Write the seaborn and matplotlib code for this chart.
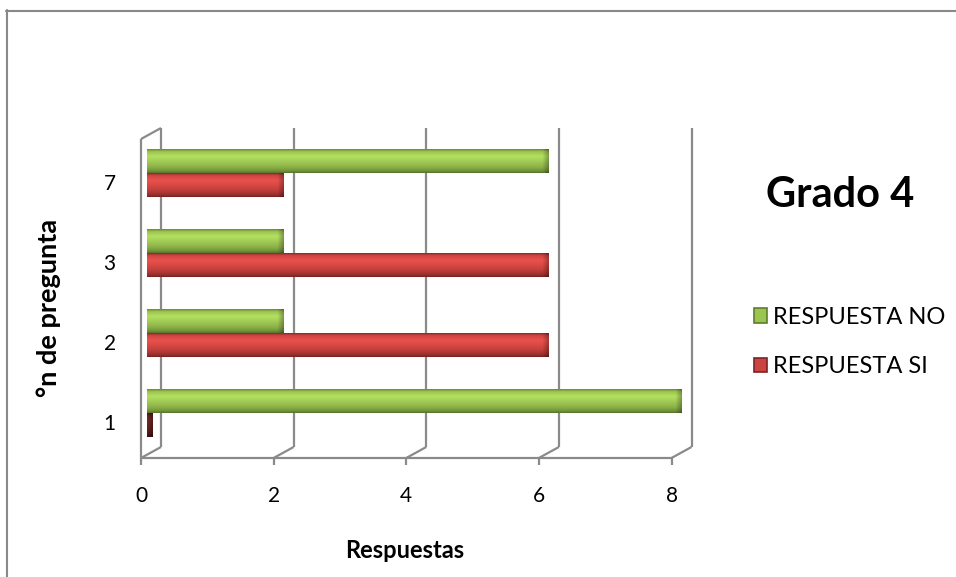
import numpy as np
import pandas as pd
import matplotlib
matplotlib.use("Agg")
import matplotlib.pyplot as plt
import seaborn as sns
from matplotlib.patches import FancyBboxPatch, Patch
from matplotlib.lines import Line2D
from matplotlib.colors import to_rgb

# Survey results per question number
preguntas = ["7", "3", "2", "1"]
respuesta_si = [2, 6, 6, 0]
respuesta_no = [6, 2, 2, 8]
series = ["RESPUESTA NO", "RESPUESTA SI"]
x_ticks = [0, 2, 4, 6, 8]

df = pd.DataFrame({
    "pregunta": preguntas * 2,
    "serie": [series[0]] * len(preguntas) + [series[1]] * len(preguntas),
    "valor": respuesta_no + respuesta_si,
})

sns.set_theme(style="white")
plt.rcParams["font.family"] = ["Lato", "DejaVu Sans"]
plt.rcParams["text.color"] = "black"

W, H = 956, 577
fig = plt.figure(figsize=(W / 100, H / 100), dpi=100)
fig.patch.set_facecolor("white")


def px_box(left, top, right, bottom):
    return [left / W, 1 - bottom / H, (right - left) / W, (bottom - top) / H]


XMAX = 8
XMIN = -0.2          # room on the left for the side wall
NCAT = len(preguntas)
zero_px, max_px = 150.5, 681.0
ppx = (max_px - zero_px) / XMAX
ax_l = zero_px + XMIN * ppx
ax_t, ax_b = 133.5, 452.5
ax = fig.add_axes(px_box(ax_l, ax_t, max_px, ax_b))
ax.set_facecolor("none")

palette = {"RESPUESTA NO": "#9cc451", "RESPUESTA SI": "#cc4340"}
sns.barplot(data=df, x="valor", y="pregunta", hue="serie", order=preguntas,
            hue_order=series, palette=palette, orient="h", width=0.6,
            dodge=True, ax=ax, legend=False)

for s in ax.spines.values():
    s.set_visible(False)
ax.grid(False)

ppy = (ax_b - ax_t) / NCAT

# depth offsets of the back wall and the front edge (data units)
bx, by = 10.5 / ppx, -5.5 / ppy
fx, fy = -9.5 / ppx, 5.5 / ppy
floor, top = NCAT - 0.5, -0.5

grid_kw = dict(color="#8a8a8a", lw=1.6, clip_on=False, zorder=0.5,
               solid_capstyle="butt", scalex=False, scaley=False)
for v in x_ticks:
    ax.plot([v + bx, v + bx], [floor + by, top + by], **grid_kw)
    ax.plot([v + bx, v + fx], [floor + by, floor + fy], **grid_kw)
    ax.plot([v + fx, v + fx], [floor + fy, floor + fy + 7 / ppy], **grid_kw)
ax.plot([fx, XMAX + fx], [floor + fy, floor + fy], **grid_kw)
# left side wall
ax.plot([fx, fx], [floor + fy, top + fy], **grid_kw)
ax.plot([fx, bx], [top + fy, top + by], **grid_kw)

# bevelled, rounded look for the bars
stops = {
    "RESPUESTA NO": ["#6a8a30", "#9cc451", "#b4e062", "#a3cc57", "#8db249",
                     "#71923a", "#587428"],
    "RESPUESTA SI": ["#8a2a28", "#cf4542", "#e9524e", "#d94945", "#bb3c39",
                     "#952f2d", "#742322"],
}
pos = [0.0, 0.1, 0.3, 0.5, 0.75, 0.92, 1.0]
ma = ppx / ppy
rad = 5 / ppx
rgb_lookup = {k: np.array(to_rgb(v)) for k, v in palette.items()}

bars = [p for p in ax.patches]
for p in bars:
    x0, y0, w, h = p.get_x(), p.get_y(), p.get_width(), p.get_height()
    fc = np.array(p.get_facecolor()[:3])
    name = min(rgb_lookup, key=lambda k: np.abs(rgb_lookup[k] - fc).sum())
    p.set_visible(False)
    if w <= 0:
        # a zero bar only shows its dark end cap
        x0 = -4 / ppx
        w = 6 / ppx
        cols_stops = [np.array(to_rgb(c)) * 0.5 for c in stops[name]]
    else:
        x0 = x0 - 4 / ppx
        w = w + 4 / ppx
        cols_stops = [np.array(to_rgb(c)) for c in stops[name]]
    rows = 60
    t = np.linspace(0, 1, rows)
    prof = np.stack([np.interp(t, pos, [c[i] for c in cols_stops])
                     for i in range(3)], axis=1)
    ncol = max(4, int(round(w * ppx)))
    img = np.repeat(prof[:, None, :], ncol, axis=1)
    # darker rounded cap at the end of the bar
    cap = 7
    fade = np.ones(ncol)
    k = min(cap, ncol)
    fade[-k:] = np.linspace(1.0, 0.72, k)
    img = img * fade[None, :, None]
    shape = FancyBboxPatch((x0, y0), w, h,
                           boxstyle=f"round,pad=0,rounding_size={rad}",
                           mutation_aspect=ma, facecolor="none",
                           edgecolor="none", zorder=2, clip_on=False)
    ax.add_patch(shape)
    im = ax.imshow(np.clip(img, 0, 1), extent=(x0, x0 + w, y0 + h, y0),
                   aspect="auto", origin="upper", zorder=2,
                   interpolation="bilinear")
    im.set_clip_on(False)
    im.set_clip_path(shape)

# tick labels sit on the front edge of the floor / left wall
ax.set_xticks([v + fx for v in x_ticks], labels=[str(v) for v in x_ticks])
ax.set_yticks(np.arange(NCAT) + 9 / ppy, labels=preguntas)
ax.tick_params(axis="x", length=0, pad=24, labelsize=15, labelcolor="black")
ax.tick_params(axis="y", length=0, pad=15.5, labelsize=15,
               labelcolor="black")
ax.set_xlabel("")
ax.set_ylabel("")
ax.set_xlim(XMIN, XMAX)
ax.set_ylim(NCAT - 0.5, -0.5)

fig.text(405 / W, 1 - 550 / H, "Respuestas", ha="center", va="center",
         fontsize=17, fontweight="bold")
fig.text(49 / W, 1 - 308 / H, "°n de pregunta", ha="center", va="center",
         rotation=90, fontsize=19.5, fontweight="bold")
fig.text(840 / W, 1 - 195 / H, "Grado 4", ha="center", va="center",
         fontsize=30, fontweight="bold")

edge = {"RESPUESTA NO": "#5f7d2c", "RESPUESTA SI": "#7a2424"}
handles = [Patch(facecolor=palette[s], edgecolor=edge[s], linewidth=1.2)
           for s in series]
leg = fig.legend(handles, series, loc="center left",
                 bbox_to_anchor=(754 / W, 1 - 342 / H), frameon=False,
                 fontsize=17, handlelength=0.55, handleheight=0.55,
                 handletextpad=0.25, labelspacing=1.2, borderpad=0,
                 borderaxespad=0)

# outer chart border
fig.add_artist(Line2D([6 / W, 1], [1 - 10.5 / H, 1 - 10.5 / H],
                      transform=fig.transFigure, color="#888888", lw=1.5))
fig.add_artist(Line2D([6.5 / W, 6.5 / W], [0, 1 - 10 / H],
                      transform=fig.transFigure, color="#888888", lw=1.5))

fig.savefig("out.png", dpi=100, facecolor="white")
